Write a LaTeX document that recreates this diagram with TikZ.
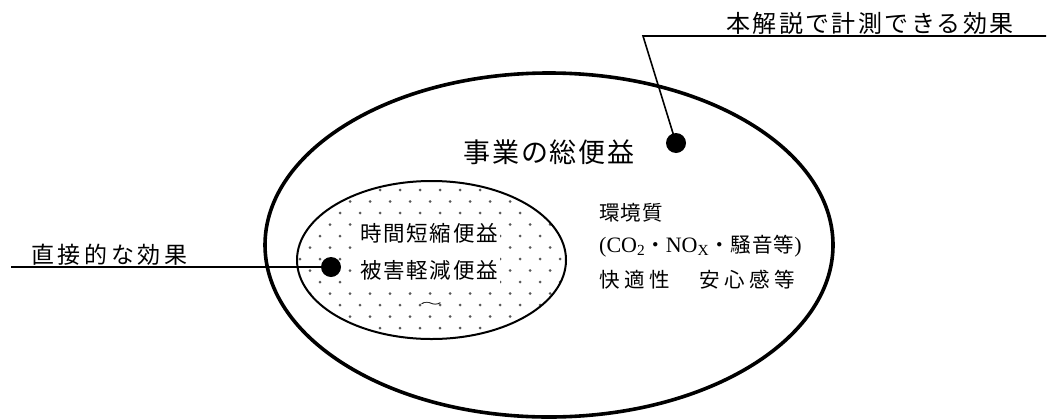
\documentclass[tikz,border=0pt]{standalone}
\usepackage{fontspec}
\setmainfont{Liberation Serif}
\newfontfamily\jp{Noto Sans CJK JP}
\newcommand{\jpf}[2]{\jp\fontsize{#1}{#1}\selectfont\addfontfeatures{LetterSpace=#2}}
\usetikzlibrary{shapes.geometric}
\tikzset{
  outerell/.style={draw, line width=3.6pt, ellipse, minimum width=568pt, minimum height=344pt, inner sep=0pt},
  innerell/.style={draw, line width=2pt, ellipse, minimum width=269pt, minimum height=158pt, inner sep=0pt},
  marker/.style={circle, fill=black, minimum size=20pt, inner sep=0pt},
  leader/.style={line width=1.6pt},
  lbl/.style={inner sep=0pt},
  masked/.style={fill=white, inner xsep=2pt, inner ysep=8pt},
  dotfill/.style={fill=black!65},
}
\begin{document}
\begin{tikzpicture}[x=1pt,y=-1pt]
\useasboundingbox (0,0) rectangle (1048,418);
% outer ellipse
\node[outerell] (outer) at (549,245) {};
% dotted fill of inner ellipse
\begin{scope}
  \clip (431.5,260) ellipse [x radius=134.5, y radius=79];
  \foreach \j in {0,...,15}{
    \foreach \i in {0,...,14}{
      \fill[dotfill] ({290+20*\i+10*mod(\j,2)},{178.5+11.5*\j}) circle[radius=1.5];
    }
  }
\end{scope}
\node[innerell] (inner) at (431.5,260) {};
% texts
\node[lbl, font=\jpf{24}{10}] (ttop) at (870,23) {本解説で計測できる効果};
\node[lbl, anchor=west, font=\jpf{23}{16}] (tleft) at (31,255) {直接的な効果};
\node[lbl, font=\jpf{27}{7}] (ttotal) at (549,152) {事業の総便益};
\node[lbl, masked, anchor=west, font=\jpf{21.5}{8}] (t1) at (358,233) {時間短縮便益};
\node[lbl, masked, anchor=west, font=\jpf{21.5}{8}] (t2) at (358,270) {被害軽減便益};
\node[lbl, font=\jp\fontsize{10}{10}\selectfont, xscale=2.2] (twave) at (431,305) {〜};
\node[lbl, anchor=west, font=\jpf{20.5}{5}] (e1) at (599,213) {環境質};
\node[lbl, anchor=west, font=\fontsize{22}{22}\selectfont] (e2) at (599,246)
  {(CO\textsubscript{2}{\jpf{20.5}{5}・}NO\textsubscript{X}{\jpf{20.5}{5}・騒音等})};
\node[lbl, anchor=west, font=\jpf{20.5}{22}] (e3) at (599,280) {快適性　安心感等};
% leaders and markers
\coordinate (lineR) at (1046,36);
\coordinate (lineK) at (643,36);
\node[marker] (m1) at (676,143) {};
\draw[leader] (lineR) -- (lineK) -- (m1.center);
\coordinate (lineL) at (11,267);
\node[marker] (m2) at (331,267) {};
\draw[leader] (lineL) -- (m2.center);
\end{tikzpicture}
\end{document}
